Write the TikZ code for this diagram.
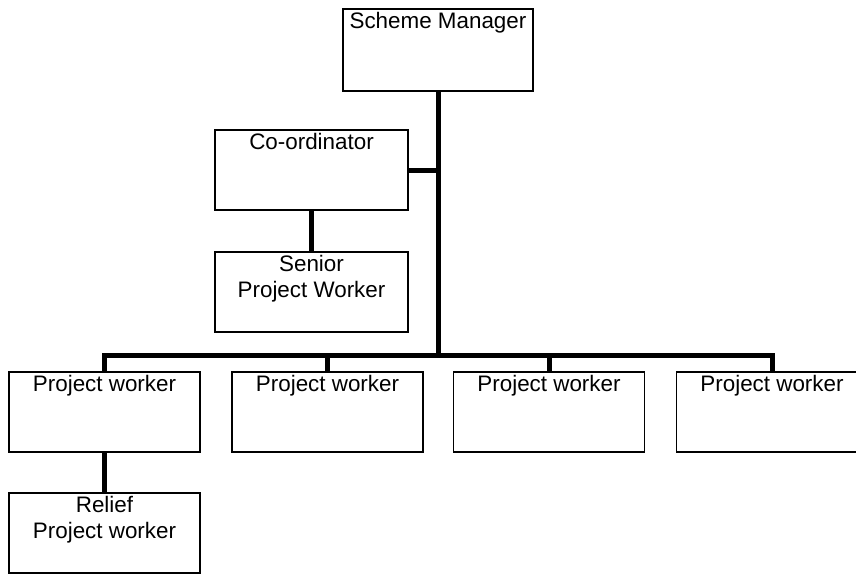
\documentclass[tikz,border=0pt]{standalone}
\usepackage{fontspec}
\setmainfont{Liberation Sans}

\tikzset{
    post/.style={draw, line width=1.2pt, rectangle, minimum width=191pt, minimum height=80pt, inner sep=0pt},
    title/.style={anchor=north, align=center, inner sep=3.5pt, font=\fontsize{22.4}{26}\selectfont},
    link/.style={line width=5pt}
}

\begin{document}
\begin{tikzpicture}[x=1pt, y=-1pt]
    \useasboundingbox (0,0) rectangle (856,573);
    \pgfmathsetmacro{\rowy}{412}
    \node[post, minimum width=190pt, minimum height=82pt, label={[title]north:Scheme Manager}] (sm) at (438, 50) {};
    \node[post, minimum width=193pt, label={[title]north:Co-ordinator}] (co) at (311.5, 170) {};
    \node[post, minimum width=193pt, label={[title]north:Senior\\Project Worker}] (snr) at (311.5, 292) {};
    \node[post, label={[title]north:Project worker}] (pw1) at (104.5, \rowy) {};
    \node[post, label={[title]north:Project worker}] (pw2) at (327.5, \rowy) {};
    \node[post, label={[title]north:Project worker}] (pw3) at (549, \rowy) {};
    \node[post, label={[title]north:Project worker}] (pw4) at (772, \rowy) {};
    \node[post, label={[title]north:Relief\\Project worker}] (rlf) at (104.5, 533) {};
    \coordinate (bus) at (438, 355);
    \draw[link] (sm.south) -- (bus);
    \draw[link] (co.east) -- (co.east -| sm.south);
    \draw[link] (co) -- (snr);
    \draw[link] (pw1.north) -- (pw1.north |- bus) -- (pw4.north |- bus) -- (pw4.north);
    \draw[link] (pw2.north) -- (pw2.north |- bus);
    \draw[link] (pw3.north) -- (pw3.north |- bus);
    \draw[link] (pw1) -- (rlf);
\end{tikzpicture}
\end{document}
